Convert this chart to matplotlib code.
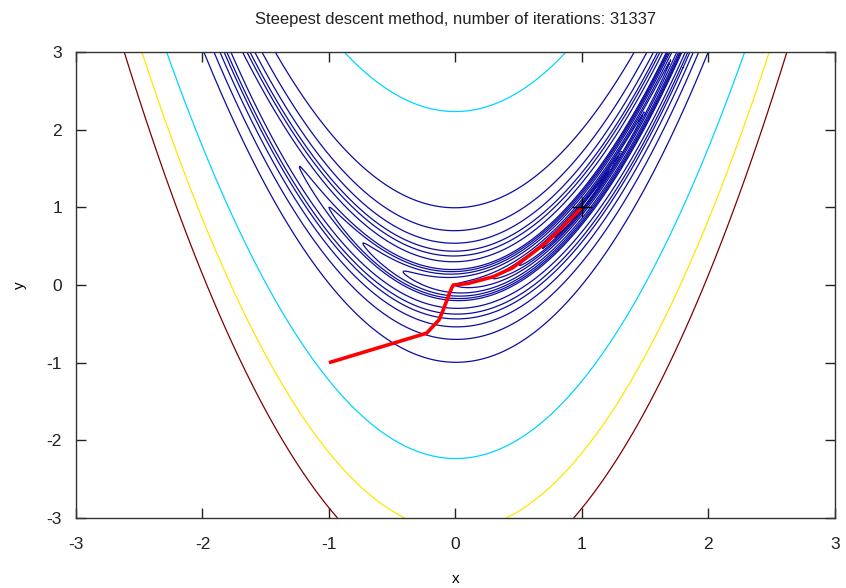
import numpy as np
import matplotlib
matplotlib.use("Agg")
import matplotlib.pyplot as plt
from matplotlib.colors import Normalize

plt.rcParams['font.family'] = ['Liberation Sans', 'DejaVu Sans']
plt.rcParams['axes.unicode_minus'] = False

# contour levels of the Rosenbrock function
levels = [0.05, 0.1, 0.25, 0.5, 1, 2, 3, 4, 5, 10, 15, 20, 30, 50, 100, 500, 1000, 1500]

# steepest descent path
path_x = [-1.0, -0.228, -0.13, -0.096, -0.057, -0.03, -0.017, 0.1, 0.30, 0.45, 0.59, 0.72, 0.85, 1.0]
path_y = [-1.0, -0.62, -0.45, -0.32, -0.15, -0.04, 0.0, 0.02, 0.108, 0.22, 0.387, 0.55, 0.75, 1.0]

n_iter = 31337
xmin_pt = [1.0]
ymin_pt = [1.0]

g = np.linspace(-3, 3, 601)
X, Y = np.meshgrid(g, g)
Z = (1 - X) ** 2 + 100 * (Y - X ** 2) ** 2

# jet colours, with the low (blue) levels a bit darker like the original
jet = plt.get_cmap('jet')
norm = Normalize(0, 1500)
line_colors = []
for lv in levels:
    c = jet(norm(lv))
    if lv <= 100:
        c = (0.05, 0.05, 0.62, 1.0)
    line_colors.append(c)

fig = plt.figure(figsize=(8.46, 5.88), dpi=100)
ax = fig.add_axes([0.0898, 0.119, 0.897, 0.7925])

ax.contour(X, Y, Z, levels=levels, colors=line_colors, linewidths=0.9)
ax.plot(path_x, path_y, color='red', lw=2.6, solid_capstyle='butt')
ax.plot(xmin_pt, ymin_pt, marker='+', color='black', ms=14, mew=1.0, ls='none')

ax.set_xlim(-3, 3)
ax.set_ylim(-3, 3)
ax.set_xticks(range(-3, 4))
ax.set_yticks(range(-3, 4))
ax.tick_params(direction='in', length=7, width=1, top=True, right=True,
               labelsize=12.5, colors='#222222')
ax.tick_params(axis='x', pad=14)
ax.tick_params(axis='y', pad=10)
for s in ax.spines.values():
    s.set_color('#333333')
    s.set_linewidth(1)

ax.set_title('Steepest descent method, number of iterations: %d' % n_iter,
             fontsize=12, pad=20, color='#222222')
ax.set_xlabel('x', fontsize=11, labelpad=14)
ax.set_ylabel('y', fontsize=11, labelpad=14)

fig.savefig('out.png', dpi=100)
